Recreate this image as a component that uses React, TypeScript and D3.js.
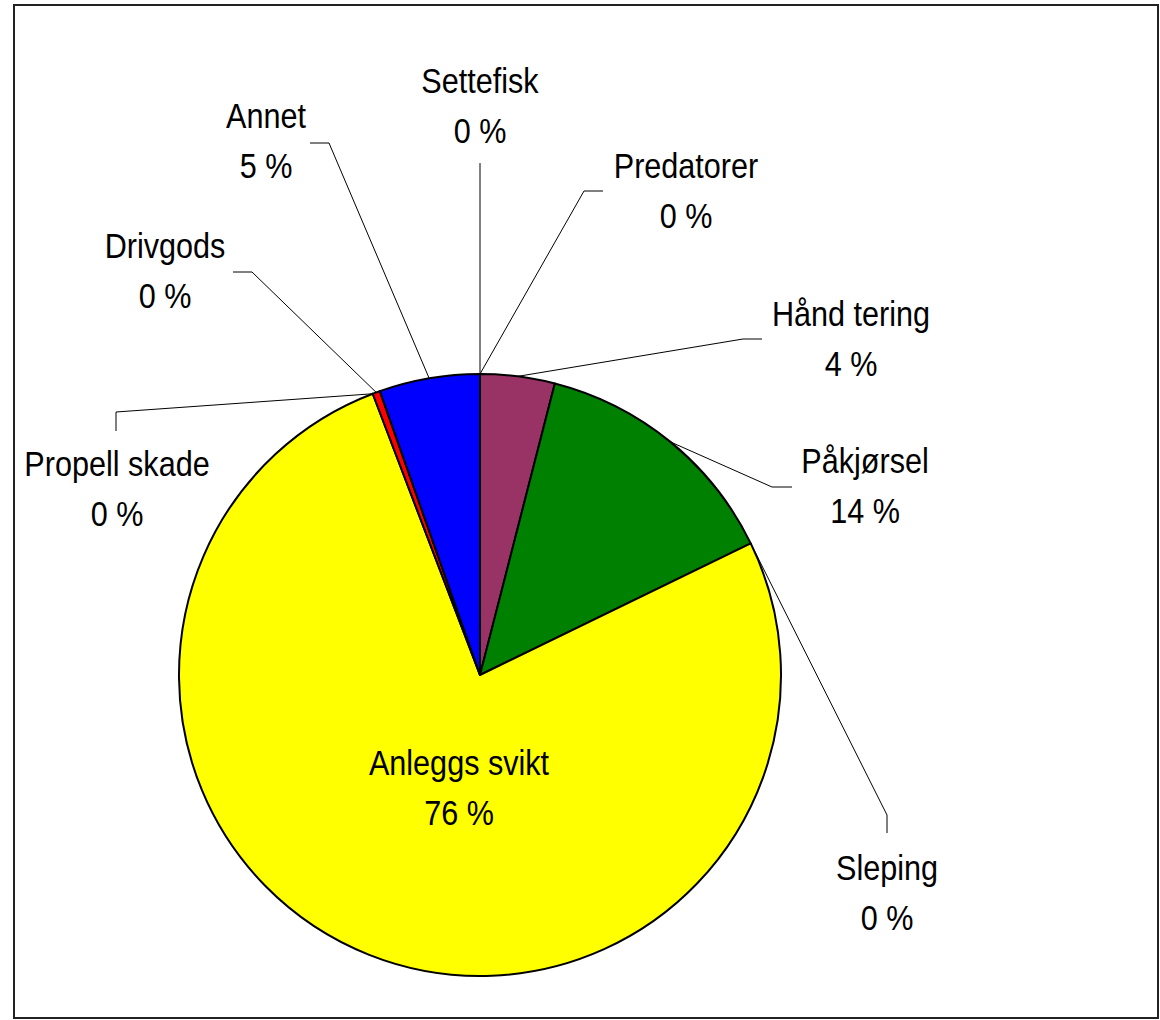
import React from 'react';
import * as d3 from 'd3';

// Slices clockwise from 12 o'clock
const categories = [
    'Settefisk',
    'Predatorer',
    'Hånd tering',
    'Påkjørsel',
    'Sleping',
    'Anleggs svikt',
    'Propell skade',
    'Drivgods',
    'Annet'
];
const values = [0, 0, 4.0, 13.8, 0, 76.4, 0, 0.4, 5.4];
const colors = ['#9999ff', '#ff8080', '#993366', '#008000', '#00ccff', '#ffff00', '#ccffcc', '#ff0000', '#0000ff'];

// Label layout (manual Excel positions): centre x, baseline of the first line, leader bend + end
const labelLayout: { x: number; y: number; leader?: [number, number][] }[] = [
    { x: 480, y: 93, leader: [[480, 163]] },
    { x: 686, y: 178, leader: [[584, 191], [603, 191]] },
    { x: 851, y: 326, leader: [[743, 339], [762, 339]] },
    { x: 865, y: 473, leader: [[772, 487], [792, 487]] },
    { x: 887, y: 880, leader: [[887, 815], [887, 833]] },
    { x: 459, y: 775 },
    { x: 117, y: 476, leader: [[116, 412], [116, 431]] },
    { x: 165, y: 258, leader: [[252, 272], [233, 272]] },
    { x: 266, y: 128, leader: [[329, 143], [310, 143]] }
];

const width = 1160;
const height = 1020;
const cx = 480;
const cy = 675;
const radius = 301;
// no narrow font available: squeeze a regular sans to look like Arial Narrow
const fontFamily = '"Liberation Sans Narrow", "Liberation Sans", Arial, sans-serif';
const squeeze = 0.85;

export default function App() {
    const data = categories.map((name, i) => ({ name, value: values[i], color: colors[i] }));
    const total = d3.sum(values);
    const pie = d3.pie<{ name: string; value: number; color: string }>().sort(null).value((d) => d.value);
    const arcs = pie(data);
    const arc = d3.arc<d3.PieArcDatum<{ name: string; value: number; color: string }>>().innerRadius(0).outerRadius(radius);

    const edgePoint = (a: d3.PieArcDatum<any>): [number, number] => {
        const mid = (a.startAngle + a.endAngle) / 2;
        return [cx + radius * Math.sin(mid), cy - radius * Math.cos(mid)];
    };

    return (
        <svg width={width} height={height} style={{ position: 'absolute', left: 0, top: 0, background: '#fff' }}>
            <rect x={14} y={5} width={1144} height={1013} fill="#fff" stroke="#222" strokeWidth={2} />
            <g transform={`translate(${cx},${cy})`}>
                {arcs
                    .filter((a) => a.value > 0)
                    .map((a) => (
                        <path key={a.data.name} d={arc(a) || ''} fill={a.data.color} stroke="#000" strokeWidth={2} strokeLinejoin="round" />
                    ))}
            </g>
            <g fill="none" stroke="#000" strokeWidth={1}>
                {arcs.map((a, i) => {
                    const lay = labelLayout[i];
                    if (!lay.leader) return null;
                    const pts = [edgePoint(a), ...lay.leader];
                    return <path key={a.data.name} d={d3.line()(pts) || ''} />;
                })}
            </g>
            <g fontFamily={fontFamily} fontSize={36} fill="#000" textAnchor="middle">
                {arcs.map((a, i) => {
                    const lay = labelLayout[i];
                    const pct = `${Math.round((a.value / total) * 100)} %`;
                    return (
                        <text key={a.data.name} transform={`translate(${lay.x},${lay.y}) scale(${squeeze},1)`}>
                            <tspan x={0}>{a.data.name}</tspan>
                            <tspan x={0} dy={50}>
                                {pct}
                            </tspan>
                        </text>
                    );
                })}
            </g>
        </svg>
    );
}
